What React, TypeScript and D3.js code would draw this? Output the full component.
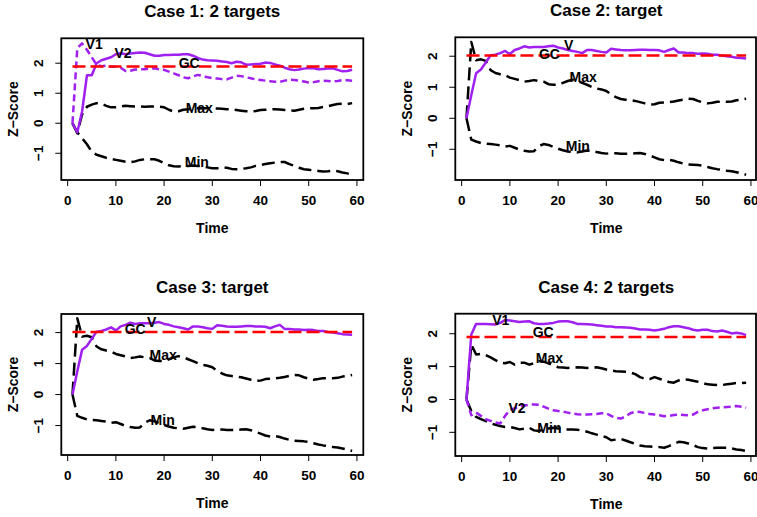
import React from "react";
import * as d3 from "d3";

const time = d3.range(1, 60);

// Case 1: 2 targets
const case1GC = 1.89;
const case1V1 = [0, 2.5, 2.66, 2.45, 2.2, 1.95, 1.9, 1.92, 1.88, 1.88, 1.85, 1.74, 1.75, 1.79, 1.8, 1.8, 1.82, 1.83, 1.8, 1.78, 1.72, 1.66, 1.6, 1.53, 1.5, 1.56, 1.61, 1.58, 1.53, 1.5, 1.49, 1.47, 1.46, 1.52, 1.58, 1.57, 1.53, 1.5, 1.46, 1.44, 1.42, 1.4, 1.38, 1.38, 1.42, 1.45, 1.44, 1.42, 1.39, 1.36, 1.37, 1.4, 1.42, 1.41, 1.39, 1.41, 1.44, 1.43, 1.42];
const case1V2 = [0, -0.3, 0.4, 1.6, 1.6, 2.0, 2.1, 2.15, 2.2, 2.3, 2.33, 2.3, 2.32, 2.34, 2.36, 2.35, 2.3, 2.25, 2.25, 2.27, 2.27, 2.28, 2.28, 2.3, 2.3, 2.25, 2.18, 2.12, 2.1, 2.09, 2.08, 2.06, 2.04, 2.0, 2.05, 2.03, 1.95, 1.96, 1.97, 1.98, 2.02, 2.01, 1.96, 1.92, 1.85, 1.8, 1.77, 1.79, 1.82, 1.84, 1.83, 1.8, 1.81, 1.82, 1.83, 1.78, 1.73, 1.74, 1.78];
const case1Max = [0, -0.33, 0.3, 0.55, 0.62, 0.67, 0.65, 0.58, 0.53, 0.53, 0.56, 0.58, 0.57, 0.56, 0.56, 0.55, 0.56, 0.56, 0.55, 0.53, 0.45, 0.39, 0.4, 0.45, 0.47, 0.48, 0.5, 0.5, 0.5, 0.5, 0.49, 0.48, 0.47, 0.46, 0.44, 0.42, 0.4, 0.39, 0.41, 0.44, 0.45, 0.46, 0.47, 0.46, 0.44, 0.43, 0.42, 0.45, 0.48, 0.5, 0.5, 0.51, 0.54, 0.57, 0.61, 0.64, 0.65, 0.64, 0.67];
const case1Min = [0, -0.3, -0.5, -0.7, -0.95, -1.05, -1.1, -1.15, -1.19, -1.22, -1.25, -1.28, -1.3, -1.27, -1.22, -1.2, -1.2, -1.2, -1.25, -1.33, -1.4, -1.43, -1.44, -1.43, -1.42, -1.41, -1.42, -1.44, -1.47, -1.5, -1.5, -1.49, -1.48, -1.52, -1.53, -1.52, -1.5, -1.47, -1.42, -1.39, -1.36, -1.33, -1.31, -1.29, -1.29, -1.36, -1.42, -1.48, -1.53, -1.55, -1.57, -1.59, -1.61, -1.6, -1.58, -1.6, -1.64, -1.67, -1.72];

// Case 2 and Case 3: target (same series)
const targetGC = 2.02;
const targetV = [0, 0.75, 1.45, 1.57, 1.8, 2.03, 2.05, 2.1, 2.17, 2.07, 2.2, 2.25, 2.32, 2.28, 2.3, 2.3, 2.3, 2.32, 2.34, 2.28, 2.25, 2.2, 2.17, 2.14, 2.1, 2.2, 2.2, 2.17, 2.14, 2.12, 2.24, 2.22, 2.2, 2.19, 2.19, 2.2, 2.21, 2.21, 2.2, 2.2, 2.19, 2.14, 2.2, 2.25, 2.12, 2.12, 2.1, 2.1, 2.08, 2.09, 2.08, 2.05, 2.05, 2.02, 2.0, 1.98, 1.95, 1.94, 1.93];
const targetMax = [0, 2.46, 1.87, 1.9, 1.85, 1.55, 1.46, 1.42, 1.39, 1.31, 1.27, 1.23, 1.18, 1.2, 1.23, 1.2, 1.18, 1.1, 1.08, 1.08, 1.14, 1.2, 1.24, 1.2, 1.14, 1.08, 1.01, 0.96, 0.93, 0.88, 0.77, 0.68, 0.62, 0.6, 0.58, 0.56, 0.52, 0.48, 0.44, 0.45, 0.5, 0.51, 0.52, 0.54, 0.57, 0.6, 0.63, 0.62, 0.56, 0.51, 0.48, 0.5, 0.53, 0.53, 0.53, 0.54, 0.58, 0.6, 0.63];
const targetMin = [0, -0.69, -0.75, -0.8, -0.82, -0.83, -0.85, -0.87, -0.91, -0.89, -0.95, -1.01, -1.05, -1.07, -1.06, -0.9, -0.83, -0.86, -0.92, -0.98, -1.03, -1.07, -1.09, -1.1, -1.07, -1.04, -1.05, -1.09, -1.12, -1.14, -1.12, -1.13, -1.14, -1.14, -1.14, -1.13, -1.12, -1.15, -1.2, -1.26, -1.32, -1.35, -1.34, -1.37, -1.42, -1.46, -1.49, -1.5, -1.51, -1.53, -1.57, -1.61, -1.64, -1.66, -1.69, -1.71, -1.74, -1.78, -1.82];

// Case 4: 2 targets
const case4GC = 1.9;
const case4V1 = [0, 1.98, 2.3, 2.3, 2.3, 2.29, 2.28, 2.33, 2.42, 2.4, 2.38, 2.36, 2.37, 2.38, 2.32, 2.3, 2.3, 2.31, 2.33, 2.37, 2.38, 2.38, 2.35, 2.3, 2.3, 2.29, 2.28, 2.26, 2.24, 2.22, 2.22, 2.2, 2.2, 2.19, 2.18, 2.16, 2.13, 2.13, 2.12, 2.1, 2.12, 2.15, 2.2, 2.23, 2.23, 2.2, 2.17, 2.12, 2.1, 2.12, 2.12, 2.08, 2.07, 2.1, 2.06, 2.01, 2.03, 2.01, 1.96];
const case4V2 = [0, -0.48, -0.4, -0.5, -0.6, -0.65, -0.7, -0.73, -0.5, -0.32, -0.27, -0.22, -0.18, -0.16, -0.15, -0.16, -0.22, -0.28, -0.33, -0.35, -0.37, -0.4, -0.43, -0.45, -0.46, -0.46, -0.45, -0.44, -0.42, -0.42, -0.5, -0.56, -0.58, -0.52, -0.42, -0.37, -0.38, -0.41, -0.44, -0.46, -0.48, -0.51, -0.5, -0.47, -0.46, -0.47, -0.48, -0.46, -0.38, -0.33, -0.3, -0.27, -0.25, -0.24, -0.23, -0.22, -0.2, -0.22, -0.25];
const case4Max = [0, 1.67, 1.37, 1.39, 1.35, 1.28, 1.2, 1.12, 1.1, 1.14, 1.06, 1.12, 1.12, 1.06, 1.1, 1.17, 1.15, 1.1, 1.04, 0.98, 0.97, 0.96, 0.97, 0.98, 0.97, 0.96, 0.97, 0.98, 0.95, 0.91, 0.88, 0.86, 0.85, 0.84, 0.82, 0.77, 0.68, 0.63, 0.62, 0.68, 0.63, 0.58, 0.53, 0.51, 0.58, 0.61, 0.6, 0.57, 0.54, 0.5, 0.46, 0.45, 0.44, 0.44, 0.46, 0.48, 0.5, 0.5, 0.51];
const case4Min = [0, -0.35, -0.53, -0.6, -0.66, -0.72, -0.77, -0.81, -0.84, -0.84, -0.87, -0.91, -0.89, -0.86, -0.94, -0.96, -0.91, -0.88, -0.86, -0.88, -0.91, -0.91, -0.91, -0.92, -0.95, -0.98, -1.03, -1.07, -1.11, -1.15, -1.24, -1.22, -1.2, -1.25, -1.3, -1.35, -1.4, -1.42, -1.43, -1.44, -1.45, -1.47, -1.42, -1.35, -1.29, -1.3, -1.34, -1.39, -1.45, -1.48, -1.49, -1.48, -1.47, -1.47, -1.47, -1.49, -1.52, -1.54, -1.57];

const xTicks = [0, 10, 20, 30, 40, 50, 60];
const yTicks = [-1, 0, 1, 2];
const titles = ["Case 1: 2 targets", "Case 2: target", "Case 3: target", "Case 4: 2 targets"];

const PURPLE = "#A020F0";
const FONT = "'Liberation Sans', Arial, Helvetica, sans-serif";

type Series = { values: number[]; kind: "max" | "min" | "solid" | "dash" };
type Label = { text: string; t: number; v: number };
type Panel = {
  title: string;
  box: { left: number; right: number; top: number; bottom: number };
  yDomain: [number, number];
  gc: number;
  series: Series[];
  labels: Label[];
};

const panels: Panel[] = [
  {
    title: titles[0],
    box: { left: 61.3, right: 363.3, top: 38.3, bottom: 180 },
    yDomain: [-1.89, 2.83],
    gc: case1GC,
    series: [
      { values: case1Max, kind: "max" },
      { values: case1Min, kind: "min" },
      { values: case1V1, kind: "dash" },
      { values: case1V2, kind: "solid" },
    ],
    labels: [
      { text: "V1", t: 5.5, v: 2.63 },
      { text: "V2", t: 11.5, v: 2.33 },
      { text: "GC", t: 25.2, v: 2.02 },
      { text: "Max", t: 27.3, v: 0.5 },
      { text: "Min", t: 26.8, v: -1.31 },
    ],
  },
  {
    title: titles[1],
    box: { left: 455.3, right: 757.3, top: 37.3, bottom: 180 },
    yDomain: [-1.99, 2.61],
    gc: targetGC,
    series: [
      { values: targetMax, kind: "max" },
      { values: targetMin, kind: "min" },
      { values: targetV, kind: "solid" },
    ],
    labels: [
      { text: "GC", t: 18.2, v: 2.08 },
      { text: "V", t: 22.2, v: 2.35 },
      { text: "Max", t: 25.2, v: 1.33 },
      { text: "Min", t: 24.1, v: -0.91 },
    ],
  },
  {
    title: titles[2],
    box: { left: 61.3, right: 363.3, top: 314, bottom: 455 },
    yDomain: [-1.95, 2.6],
    gc: targetGC,
    series: [
      { values: targetMax, kind: "max" },
      { values: targetMin, kind: "min" },
      { values: targetV, kind: "solid" },
    ],
    labels: [
      { text: "GC", t: 14.0, v: 2.1 },
      { text: "V", t: 17.4, v: 2.35 },
      { text: "Max", t: 19.8, v: 1.28 },
      { text: "Min", t: 19.7, v: -0.82 },
    ],
  },
  {
    title: titles[3],
    box: { left: 455.3, right: 757.3, top: 313.7, bottom: 456 },
    yDomain: [-1.72, 2.61],
    gc: case4GC,
    series: [
      { values: case4Max, kind: "max" },
      { values: case4Min, kind: "min" },
      { values: case4V2, kind: "dash" },
      { values: case4V1, kind: "solid" },
    ],
    labels: [
      { text: "V1", t: 8.1, v: 2.43 },
      { text: "GC", t: 16.9, v: 2.06 },
      { text: "Max", t: 18.2, v: 1.25 },
      { text: "V2", t: 11.5, v: -0.25 },
      { text: "Min", t: 18.2, v: -0.86 },
    ],
  },
];

function styleFor(kind: Series["kind"]) {
  if (kind === "solid") return { stroke: PURPLE, dash: undefined as string | undefined };
  if (kind === "dash") return { stroke: PURPLE, dash: "7,4" };
  return { stroke: "#000", dash: "13,6" };
}

function PanelView({ p }: { p: Panel }) {
  const x = d3.scaleLinear().domain([-1.32, 61.32]).range([p.box.left, p.box.right]);
  const y = d3.scaleLinear().domain(p.yDomain).range([p.box.bottom, p.box.top]);
  const line = d3
    .line<number>()
    .x((_, i) => x(time[i]))
    .y((d) => y(d));
  const gcLine = d3.line<number>().x((t) => x(t)).y(() => y(p.gc));
  const { left, right, top, bottom } = p.box;
  const visRight = Math.min(right, 756);
  return (
    <g>
      <text
        x={x(30)}
        y={top - 21}
        textAnchor="middle"
        fontFamily={FONT}
        fontWeight="bold"
        fontSize={17}
      >
        {p.title}
      </text>
      {p.series.map((s, i) => {
        const st = styleFor(s.kind);
        return (
          <path
            key={i}
            d={line(s.values) || ""}
            fill="none"
            stroke={st.stroke}
            strokeWidth={2.5}
            strokeDasharray={st.dash}
            strokeLinejoin="round"
          />
        );
      })}
      <path
        d={gcLine([time[0], time[time.length - 1]]) || ""}
        fill="none"
        stroke="#FF0000"
        strokeWidth={2.5}
        strokeDasharray="13,5"
      />
      {p.labels.map((l, i) => (
        <text
          key={i}
          x={x(l.t)}
          y={y(l.v)}
          dy="0.35em"
          textAnchor="middle"
          fontFamily={FONT}
          fontWeight="bold"
          fontSize={14}
        >
          {l.text}
        </text>
      ))}
      <rect
        x={left}
        y={top}
        width={visRight - left}
        height={bottom - top}
        fill="none"
        stroke="#000"
        strokeWidth={1.8}
      />
      {xTicks.map((t) => (
        <g key={"x" + t}>
          <line x1={x(t)} x2={x(t)} y1={bottom} y2={bottom + 6} stroke="#000" strokeWidth={1} />
          <text
            x={x(t)}
            y={bottom + 25}
            textAnchor="middle"
            fontFamily={FONT}
            fontWeight="bold"
            fontSize={13.5}
          >
            {String(t)}
          </text>
        </g>
      ))}
      {yTicks.map((v) => (
        <g key={"y" + v}>
          <line x1={left - 6} x2={left} y1={y(v)} y2={y(v)} stroke="#000" strokeWidth={1} />
          <text
            transform={`translate(${left - 18},${y(v)}) rotate(-90)`}
            textAnchor="middle"
            fontFamily={FONT}
            fontWeight="bold"
            fontSize={13.5}
          >
            {v < 0 ? "\u2212" + Math.abs(v) : String(v)}
          </text>
        </g>
      ))}
      <text
        x={x(30)}
        y={bottom + 53}
        textAnchor="middle"
        fontFamily={FONT}
        fontWeight="bold"
        fontSize={14}
      >
        Time
      </text>
      <text
        transform={`translate(${left - 43},${(top + bottom) / 2}) rotate(-90)`}
        textAnchor="middle"
        fontFamily={FONT}
        fontWeight="bold"
        fontSize={14}
      >
        {"Z\u2212Score"}
      </text>
    </g>
  );
}

export default function App() {
  return (
    <svg
      width={757}
      height={517}
      viewBox="0 0 757 517"
      style={{ position: "absolute", left: 0, top: 0, background: "#fff" }}
    >
      <rect x={0} y={0} width={757} height={517} fill="#fff" />
      {panels.map((p, i) => (
        <PanelView key={i} p={p} />
      ))}
    </svg>
  );
}
